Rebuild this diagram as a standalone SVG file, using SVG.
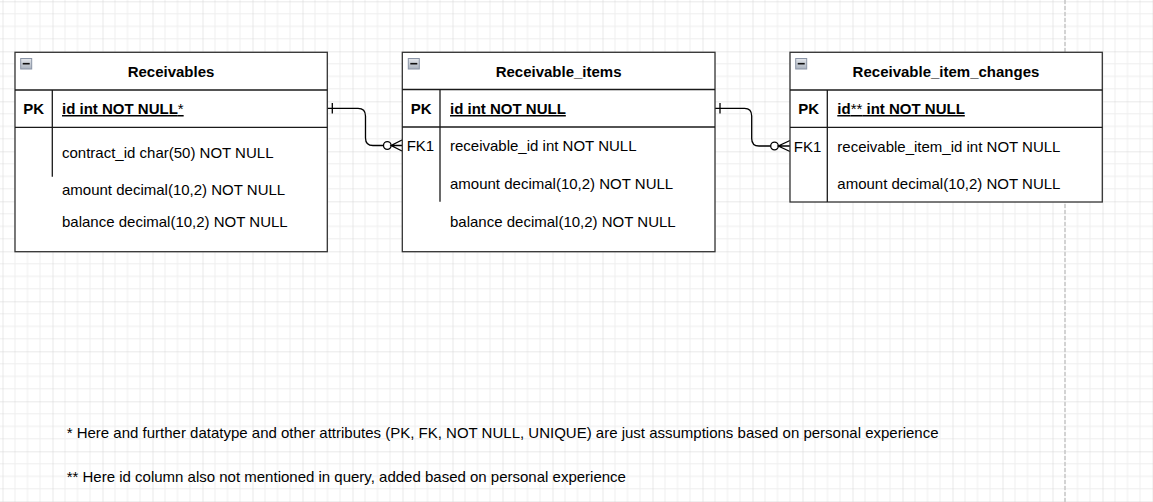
<svg xmlns="http://www.w3.org/2000/svg" width="1153" height="502" viewBox="0 0 1153 502">
<style>
  text { font-family: "Liberation Sans", Arial, sans-serif; font-size: 15px; fill: #000; }
  .b { font-weight: bold; }
  .n { font-weight: normal; }
  .u { text-decoration: underline; }
  .c { text-anchor: middle; }
  .box { fill: #fff; stroke: #333; stroke-width: 1.3; }
  .ln { stroke: #1a1a1a; stroke-width: 1.3; fill: none; }
  .conn { stroke: #000; stroke-width: 1.3; fill: none; }
  .ico { fill: url(#icoGrad); stroke: #8a94a6; stroke-width: 1; }
  .icoL { stroke: #111; stroke-width: 1.6; }
</style>
<defs>
  <pattern id="grid" patternUnits="userSpaceOnUse" x="2.5" y="1.3" width="50" height="50">
    <path d="M12.5 0V50M25 0V50M37.5 0V50M0 12.5H50M0 25H50M0 37.5H50" stroke="#eeeeee" stroke-width="1" fill="none"/>
    <path d="M0 0V50M0 0H50" stroke="#d4d4d4" stroke-width="1" fill="none"/>
  </pattern>
  <linearGradient id="icoGrad" x1="0" y1="0" x2="0" y2="1">
    <stop offset="0" stop-color="#e4e7ec"/>
    <stop offset="1" stop-color="#aab2be"/>
  </linearGradient>
  <g id="minus">
    <rect class="ico" x="0" y="0" width="11" height="10.5"/>
    <line class="icoL" x1="2" y1="5.2" x2="9" y2="5.2"/>
  </g>
</defs>
<rect width="1153" height="502" fill="#fff"/>
<rect width="1153" height="502" fill="url(#grid)"/>
<line x1="1065" y1="0" x2="1065" y2="502" stroke="#c8c8c8" stroke-width="1.5" stroke-dasharray="4 2"/>

<g id="connectors">
  <path class="conn" d="M327 108.3H358Q365.5 108.3 365.5 116V138Q365.5 145.5 373 145.5H383.5"/>
  <line class="conn" x1="332.3" y1="103" x2="332.3" y2="113.6"/>
  <circle class="conn" cx="387.3" cy="145.5" r="3.8"/>
  <path class="conn" d="M402 140L391.1 145.5L402 151M391.1 145.5H402"/>

  <path class="conn" d="M715 108.3H744.5Q751.7 108.3 751.7 116V138.5Q751.7 146 759 146H770.7"/>
  <line class="conn" x1="720" y1="103" x2="720" y2="113.6"/>
  <circle class="conn" cx="774.5" cy="146" r="3.8"/>
  <path class="conn" d="M790 140.5L778.3 146L790 151.5M778.3 146H790"/>
</g>

<g id="receivables">
  <rect class="box" x="15" y="52.3" width="312.3" height="199.4"/>
  <line class="ln" x1="15" y1="90" x2="327.3" y2="90"/>
  <line class="ln" x1="15" y1="127.3" x2="327.3" y2="127.3"/>
  <line class="ln" x1="52.3" y1="90" x2="52.3" y2="176.7"/>
  <use href="#minus" x="20.7" y="58.5"/>
  <text class="b c" x="171" y="77">Receivables</text>
  <text class="b c" x="33.6" y="114">PK</text>
  <text class="b u" x="62" y="114">id int NOT NULL<tspan class="n">*</tspan></text>
  <text x="62" y="158.3">contract_id char(50) NOT NULL</text>
  <text x="62" y="195">amount decimal(10,2) NOT NULL</text>
  <text x="62" y="226.7">balance decimal(10,2) NOT NULL</text>
</g>

<g id="receivable_items">
  <rect class="box" x="402.3" y="52.3" width="312.7" height="199.4"/>
  <line class="ln" x1="402.3" y1="89.5" x2="715" y2="89.5"/>
  <line class="ln" x1="402.3" y1="127" x2="715" y2="127"/>
  <line class="ln" x1="440" y1="89.5" x2="440" y2="201.7"/>
  <use href="#minus" x="408.3" y="58.5"/>
  <text class="b c" x="558.6" y="77">Receivable_items</text>
  <text class="b c" x="421.2" y="114">PK</text>
  <text class="b u" x="450" y="114">id int NOT NULL</text>
  <text class="c" x="420.4" y="151.3">FK1</text>
  <text x="450" y="151.3">receivable_id int NOT NULL</text>
  <text x="450" y="188.5">amount decimal(10,2) NOT NULL</text>
  <text x="450" y="226.7">balance decimal(10,2) NOT NULL</text>
</g>

<g id="receivable_item_changes">
  <rect class="box" x="790" y="52.3" width="312.3" height="149.7"/>
  <line class="ln" x1="790" y1="90" x2="1102.3" y2="90"/>
  <line class="ln" x1="790" y1="127.3" x2="1102.3" y2="127.3"/>
  <line class="ln" x1="827.3" y1="90" x2="827.3" y2="202"/>
  <use href="#minus" x="795.7" y="58.5"/>
  <text class="b c" x="946" y="77">Receivable_item_changes</text>
  <text class="b c" x="808.6" y="114">PK</text>
  <text class="b u" x="837.3" y="114">id<tspan class="n">**</tspan> int NOT NULL</text>
  <text class="c" x="807.6" y="151.7">FK1</text>
  <text x="837.3" y="151.7">receivable_item_id int NOT NULL</text>
  <text x="837.3" y="189">amount decimal(10,2) NOT NULL</text>
</g>

<g id="notes">
  <text x="66.7" y="437.7">* Here and further datatype and other attributes (PK, FK, NOT NULL, UNIQUE) are just assumptions based on personal experience</text>
  <text x="66.7" y="481.7">** Here id column also not mentioned in query, added based on personal experience</text>
</g>
</svg>
